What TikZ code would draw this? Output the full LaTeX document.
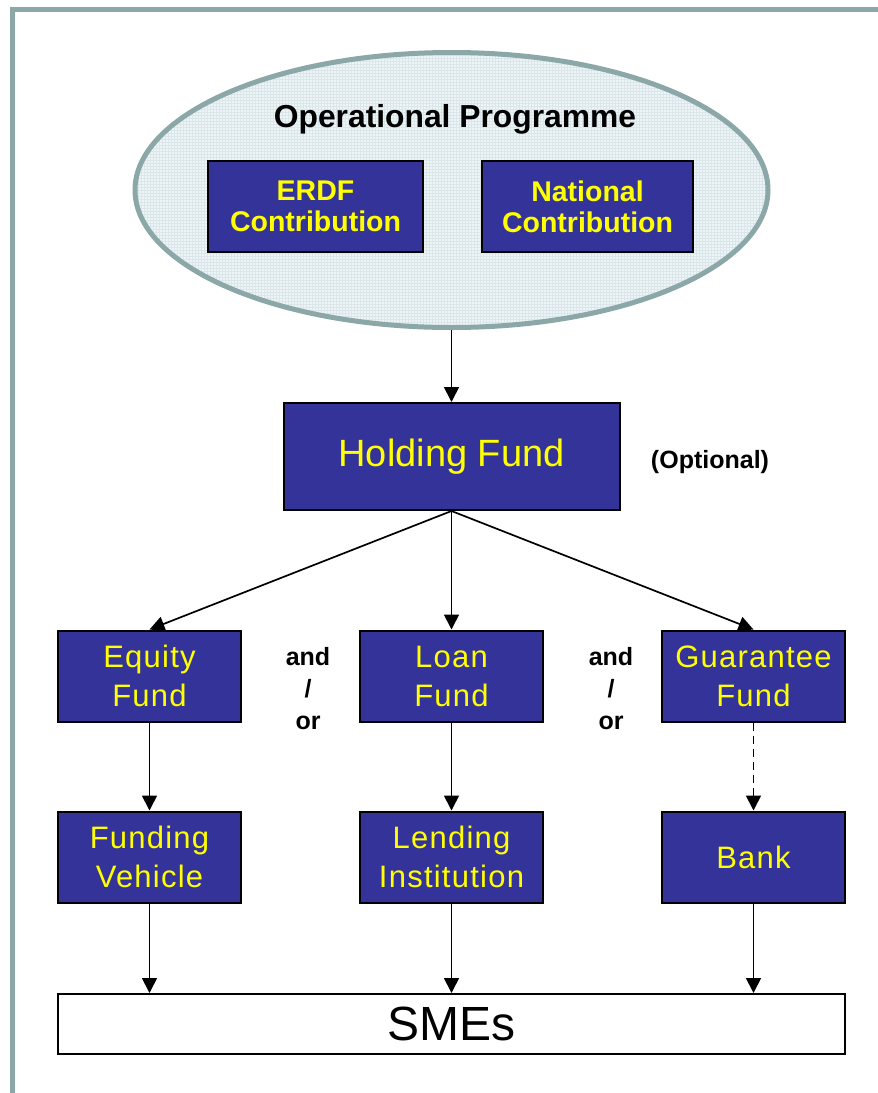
\documentclass[tikz,border=0pt]{standalone}
\usepackage{fontspec}
\setmainfont{Liberation Sans}
\newfontfamily\spacedfont[LetterSpace=4]{Liberation Sans}
\usetikzlibrary{shapes.geometric,arrows.meta,patterns}
\definecolor{framegray}{HTML}{8CA7A8}
\definecolor{ellfill}{HTML}{EEF5F7}
\definecolor{ellgrid}{HTML}{DAE6EA}
\definecolor{fundblue}{HTML}{333399}
\definecolor{fundyellow}{HTML}{FFFF00}

\begin{document}
\begin{tikzpicture}[x=1pt,y=-1pt,
        fund/.style={draw=black,line width=2pt,fill=fundblue,text=fundyellow,align=center,inner sep=0pt,
          minimum width=183pt,minimum height=91pt,font=\spacedfont\fontsize{31}{39}\selectfont},
        contrib/.style={fund,font=\bfseries\fontsize{28.5}{31}\selectfont},
        andor/.style={align=center,font=\bfseries\fontsize{25}{32}\selectfont},
        arr/.style={line width=1.7pt,-{Triangle[length=15pt,width=15pt]}}]
        \useasboundingbox (0,0) rectangle (878,1093);
        \draw[framegray,line width=5pt] (12.5,1093) -- (12.5,9.5) -- (878,9.5);

        \node[ellipse,draw=framegray,line width=5pt,preaction={fill=ellfill},pattern=grid,pattern color=ellgrid,
          minimum width=633pt,minimum height=275pt,inner sep=0pt] (op) at (451.5,190) {};
        \node[anchor=base,font=\bfseries\fontsize{31.8}{36}\selectfont] (optitle) at (455,127) {Operational Programme};
        \node[contrib,minimum width=215pt] (erdf) at (315.5,206.5) {ERDF\\Contribution};
        \node[contrib,minimum width=211pt] (natl) at (587.5,206.5) {National\\Contribution};

        \node[fund,minimum width=336pt,minimum height=107pt,font=\fontsize{38}{44}\selectfont] (hold) at (451.5,456.5) {Holding Fund};
        \node[andor] (opt) at (710,462) {(Optional)};

        \node[fund] (equity) at (149.5,676) {Equity\\Fund};
        \node[fund] (loan) at (451.5,676) {Loan\\Fund};
        \node[fund] (guar) at (753.5,676) {Guarantee\\Fund};
        \node[andor] (andor1) at (308,689) {and\\/\\or};
        \node[andor] (andor2) at (611,689) {and\\/\\or};

        \node[fund] (vehicle) at (149.5,857) {Funding\\Vehicle};
        \node[fund] (lending) at (451.5,857) {Lending\\Institution};
        \node[fund] (bank) at (753.5,857) {Bank};

        \node[draw=black,line width=2pt,fill=white,inner sep=0pt,minimum width=787pt,minimum height=60pt,
          font=\fontsize{48}{50}\selectfont] (smes) at (451.5,1024) {SMEs};

        \draw[arr] (op.south) -- (hold.north);
        \draw[arr] (hold.south) -- (equity.north);
        \draw[arr] (hold.south) -- (loan.north);
        \draw[arr] (hold.south) -- (guar.north);
        \draw[arr] (equity) -- (vehicle);
        \draw[arr] (loan) -- (lending);
        \draw[arr,dash pattern=on 8pt off 5pt] (guar) -- (bank);
        \draw[arr] (vehicle) -- (vehicle |- smes.north);
        \draw[arr] (lending) -- (lending |- smes.north);
        \draw[arr] (bank) -- (bank |- smes.north);
      \end{tikzpicture}
\end{document}
